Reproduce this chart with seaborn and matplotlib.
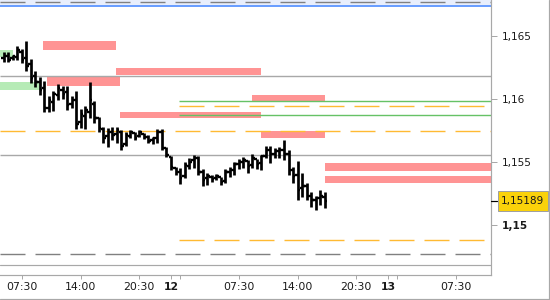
import numpy as np
import pandas as pd
import matplotlib
matplotlib.use("Agg")
import matplotlib.pyplot as plt
import seaborn as sns
from matplotlib.patches import Rectangle
from matplotlib.lines import Line2D

sns.set_theme(style="white")
plt.rcParams['font.family'] = ['DejaVu Sans']
plt.rcParams['lines.scale_dashes'] = False

# ---------------- data ----------------
times = pd.date_range("2018-06-11 05:30", periods=72, freq="30min")
day12 = pd.Timestamp("2018-06-12 00:00")

opens = [1.16325, 1.16341, 1.16325, 1.16333, 1.16373, 1.16325, 1.16278, 1.16183, 1.16135, 1.16087,
         1.15929, 1.15976, 1.16032, 1.16071, 1.16056, 1.15960, 1.15992, 1.15817, 1.15865, 1.15897,
         1.15960, 1.15849, 1.15762, 1.15706, 1.15738, 1.15722, 1.15738, 1.15643, 1.15706, 1.15730,
         1.15706, 1.15722, 1.15698, 1.15675, 1.15690, 1.15738, 1.15611, 1.15540, 1.15452, 1.15421,
         1.15389, 1.15468, 1.15516, 1.15532, 1.15421, 1.15373, 1.15381, 1.15373, 1.15381, 1.15349,
         1.15421, 1.15437, 1.15484, 1.15500, 1.15508, 1.15476, 1.15524, 1.15492, 1.15548, 1.15595,
         1.15563, 1.15587, 1.15595, 1.15563, 1.15437, 1.15397, 1.15294, 1.15310, 1.15230, 1.15198,
         1.15214, 1.15222]
highs = [1.16373, 1.16373, 1.16349, 1.16421, 1.16397, 1.16460, 1.16317, 1.16222, 1.16175, 1.16143,
         1.16024, 1.16063, 1.16119, 1.16103, 1.16103, 1.16024, 1.16063, 1.15921, 1.15944, 1.16135,
         1.15984, 1.15857, 1.15778, 1.15770, 1.15778, 1.15778, 1.15754, 1.15738, 1.15754, 1.15738,
         1.15754, 1.15730, 1.15714, 1.15698, 1.15762, 1.15762, 1.15619, 1.15548, 1.15460, 1.15452,
         1.15500, 1.15532, 1.15556, 1.15548, 1.15444, 1.15413, 1.15397, 1.15405, 1.15381, 1.15444,
         1.15460, 1.15500, 1.15524, 1.15540, 1.15516, 1.15563, 1.15524, 1.15556, 1.15627, 1.15627,
         1.15611, 1.15619, 1.15675, 1.15595, 1.15460, 1.15508, 1.15413, 1.15333, 1.15262, 1.15230,
         1.15278, 1.15262]
lows = [1.16294, 1.16294, 1.16310, 1.16310, 1.16286, 1.16222, 1.16127, 1.16095, 1.16032, 1.15897,
        1.15897, 1.15905, 1.15992, 1.16000, 1.15913, 1.15929, 1.15762, 1.15770, 1.15762, 1.15849,
        1.15810, 1.15738, 1.15651, 1.15619, 1.15675, 1.15651, 1.15595, 1.15627, 1.15690, 1.15675,
        1.15698, 1.15683, 1.15651, 1.15643, 1.15651, 1.15595, 1.15540, 1.15437, 1.15397, 1.15325,
        1.15373, 1.15444, 1.15452, 1.15397, 1.15310, 1.15317, 1.15341, 1.15357, 1.15317, 1.15333,
        1.15381, 1.15397, 1.15444, 1.15452, 1.15413, 1.15452, 1.15444, 1.15437, 1.15532, 1.15492,
        1.15532, 1.15532, 1.15516, 1.15397, 1.15333, 1.15198, 1.15222, 1.15198, 1.15143, 1.15119,
        1.15159, 1.15135]
closes = [1.16341, 1.16310, 1.16341, 1.16389, 1.16310, 1.16262, 1.16167, 1.16135, 1.16071, 1.15929,
          1.15992, 1.16040, 1.16087, 1.16040, 1.15952, 1.15992, 1.15802, 1.15881, 1.15913, 1.15992,
          1.15849, 1.15770, 1.15690, 1.15738, 1.15714, 1.15754, 1.15627, 1.15714, 1.15738, 1.15690,
          1.15738, 1.15698, 1.15667, 1.15690, 1.15738, 1.15611, 1.15556, 1.15460, 1.15421, 1.15373,
          1.15476, 1.15500, 1.15532, 1.15421, 1.15357, 1.15389, 1.15365, 1.15389, 1.15341, 1.15421,
          1.15437, 1.15484, 1.15500, 1.15516, 1.15468, 1.15532, 1.15484, 1.15548, 1.15595, 1.15563,
          1.15587, 1.15595, 1.15563, 1.15437, 1.15389, 1.15278, 1.15310, 1.15230, 1.15198, 1.15214,
          1.15230, 1.15189]
last_price = 1.15189
last_label = "1,15189"

# zones: start hour, end hour (relative to day 12 00:00), low, high
red_start = [-14.2, -6.1, -13.7, -5.6, 9.0, 10.0, 17.0, 17.0]
red_end = [-6.1, 10.0, -5.6, 10.0, 17.0, 17.0, 40.0, 40.0]
red_low = [1.16389, 1.16191, 1.16103, 1.15849, 1.15984, 1.15690, 1.15429, 1.15333]
red_high = [1.16460, 1.16246, 1.16175, 1.15897, 1.16032, 1.15746, 1.15492, 1.15389]

green_start = [-20.0, -20.0]
green_end = [-17.5, -14.5]
green_low = [1.16333, 1.16071]
green_high = [1.16389, 1.16135]

gray_levels = [1.16183, 1.15556]
green_levels = [1.15984, 1.15873]
orange_levels = [1.15944, 1.15746, 1.14881]
orange_start = [0.9, -20.0, 0.9]
darkdash_level = 1.14770

yticks = [1.15, 1.155, 1.16, 1.165]
ytick_labels = ["1,15", "1,155", "1,16", "1,165"]
xticks = [-16.5, -10, -3.5, 0, 7.5, 14, 20.5, 24, 31.5]
xtick_labels = ["07:30", "14:00", "20:30", "12", "07:30", "14:00", "20:30", "13", "07:30"]
minor_xticks = [1, 25]

# ---------------- figure ----------------
W, H = 550, 300
fig = plt.figure(figsize=(5.5, 3.0), dpi=100)
fig.patch.set_facecolor("white")
ax = fig.add_axes([0, 25 / H, 491 / W, 275 / H])
ax.set_facecolor("white")

x0, x1 = -18.916, 35.398
y0, y1 = 1.146032, 1.167857
ax.set_xlim(x0, x1)
ax.set_ylim(y0, y1)

px = 0.72  # one pixel in points
RED = "#FF9494"
GREEN_Z = "#B6EBB6"
ORANGE = "#FFBA33"
GREEN_L = "#66C266"
GRAY = "#A8A8A8"

for s, e, lo, hi in zip(red_start, red_end, red_low, red_high):
    ax.add_patch(Rectangle((s, lo), e - s, hi - lo, facecolor=RED, edgecolor="none", zorder=1))
for s, e, lo, hi in zip(green_start, green_end, green_low, green_high):
    ax.add_patch(Rectangle((s, lo), e - s, hi - lo, facecolor=GREEN_Z, edgecolor="none", zorder=1))

for lv in gray_levels:
    ax.hlines(lv, x0, x1, color=GRAY, lw=1.4 * px, zorder=2)
for lv in green_levels:
    ax.hlines(lv, 0.9, x1, color=GREEN_L, lw=1.4 * px, zorder=2)
for lv, s in zip(orange_levels, orange_start):
    ax.plot([max(s, x0), x1], [lv, lv], color=ORANGE, lw=1.4 * px,
            linestyle=(0, (25 * px, 10 * px)), zorder=2)
ax.plot([x0, x1], [darkdash_level, darkdash_level], color="#808080", lw=1.4 * px,
        linestyle=(0, (25 * px, 10 * px)), zorder=2)

# top band
ax.axhspan(1.16738, y1, color="#E8EEFC", zorder=1, lw=0)
ax.axhline(1.16738, color="#6A9EFF", lw=2 * px, zorder=2)
ax.plot([x0, x1], [1.16772, 1.16772], color="#808080", lw=1.4 * px,
        linestyle=(0, (25 * px, 10 * px)), zorder=2)

# inner bottom line
ax.axhline(1.146825, color=GRAY, lw=1.2 * px, zorder=2)

# OHLC bars
hours = np.asarray((times - day12) / pd.Timedelta(hours=1), dtype=float)
df = pd.DataFrame({"t": hours, "o": opens, "h": highs, "l": lows, "c": closes})
tick = 0.27
ax.vlines(df.t, df.l, df.h, color="black", lw=2.7 * px, zorder=4)
ax.hlines(df.o, df.t - tick, df.t, color="black", lw=2.4 * px, zorder=4)
ax.hlines(df.c, df.t, df.t + tick, color="black", lw=2.4 * px, zorder=4)

# spines
for side in ["left", "top"]:
    ax.spines[side].set_visible(False)
for side in ["right", "bottom"]:
    ax.spines[side].set_color(GRAY)
    ax.spines[side].set_linewidth(1.2 * px)

ax.yaxis.tick_right()
ax.set_yticks(yticks)
ax.set_yticklabels(ytick_labels)
ax.tick_params(axis="y", right=True, left=False, labelright=True, labelleft=False,
               length=6 * px, width=1 * px, color=GRAY, pad=3.5, labelsize=7.6,
               labelcolor="#1a1a1a")
ax.set_xticks(xticks)
ax.set_xticklabels(xtick_labels)
ax.set_xticks(minor_xticks, minor=True)
ax.tick_params(axis="x", which="both", bottom=True, length=4 * px, width=1 * px,
               color=GRAY, pad=2.5, labelsize=7.8, labelcolor="#1a1a1a")
for lab in ax.get_yticklabels():
    if lab.get_text() == "1,15":
        lab.set_fontweight("bold")
for lab in ax.get_xticklabels():
    if lab.get_text() in ("12", "13"):
        lab.set_fontweight("bold")
ax.grid(False)

# current price tick + box
trans = ax.get_yaxis_transform()
ax.add_line(Line2D([1.0, 1.0 + 6 / 491], [last_price, last_price], transform=trans,
                   color="black", lw=1.2 * px, clip_on=False, zorder=6))
fig.patches.append(Rectangle((498 / W, (H - 211) / H), 50 / W, 20 / H, transform=fig.transFigure,
                             facecolor="#FAD20A", edgecolor="#A0A0A0", lw=1 * px, zorder=5))
fig.text(500.5 / W, (H - 201) / H, last_label,
         ha="left", va="center", fontsize=7.6, color="#1a1a1a", zorder=6)

# figure frame (right and bottom)
fig.add_artist(Line2D([548.5 / W, 548.5 / W], [0, 1], transform=fig.transFigure, color=GRAY, lw=1.2 * px))
fig.add_artist(Line2D([0, 548.5 / W], [0.8 / H, 0.8 / H], transform=fig.transFigure, color=GRAY, lw=1.2 * px))

fig.savefig("out.png", dpi=100)
